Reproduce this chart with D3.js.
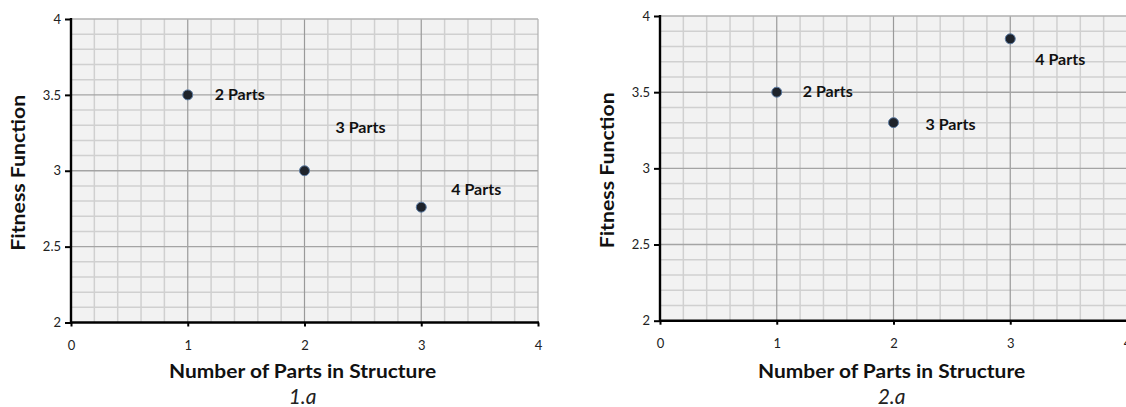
<!DOCTYPE html>
<html>
<head>
<meta charset="utf-8">
<script src="https://cdn.jsdelivr.net/npm/d3@7"></script>
<style>
  html, body { margin: 0; padding: 0; background: #fff; }
  svg { display: block; }
  text { font-family: Lato, "Open Sans", sans-serif; }
</style>
</head>
<body>
<svg id="chart" width="1126" height="407"></svg>
<script>
// ---- data ----
const xTicks = [0, 1, 2, 3, 4];
const yTicks = [2, 2.5, 3, 3.5, 4];
const pointLabels = ["2 Parts", "3 Parts", "4 Parts"];
const parts1 = [1, 2, 3];
const fitness1 = [3.5, 3.0, 2.76];
const parts2 = [1, 2, 3];
const fitness2 = [3.5, 3.3, 3.85];
const xTitle = "Number of Parts in Structure";
const yTitle = "Fitness Function";
const captions = ["1.a", "2.a"];

// ---- layout ----
const panels = [
  { left: 71, right: 538, top: 19, bottom: 322.5, xs: parts1, ys: fitness1, caption: captions[0],
    yTitleX: 19, labelOffsets: [[27, 5], [31, -38], [30, -12]] },
  { left: 660, right: 1127, top: 16, bottom: 320.7, xs: parts2, ys: fitness2, caption: captions[1],
    yTitleX: 608, labelOffsets: [[26, 4.5], [32, 7.5], [25, 26.5]] }
];

const svg = d3.select("#chart");

panels.forEach(p => {
  const x = d3.scaleLinear().domain([0, 4]).range([p.left, p.right]);
  const y = d3.scaleLinear().domain([2, 4]).range([p.bottom, p.top]);
  const g = svg.append("g");

  // background
  g.append("rect").attr("x", p.left).attr("y", p.top)
    .attr("width", p.right - p.left).attr("height", p.bottom - p.top)
    .attr("fill", "#f2f2f2");

  // minor grid
  const xMinor = d3.range(0, 4.0001, 0.2).filter(v => Math.abs(v - Math.round(v)) > 1e-6);
  const yMinor = d3.range(2, 4.0001, 0.1).filter(v => Math.abs(v * 2 - Math.round(v * 2)) > 1e-6);
  g.selectAll(".vminor").data(xMinor).join("line")
    .attr("x1", d => x(d)).attr("x2", d => x(d)).attr("y1", p.top).attr("y2", p.bottom)
    .attr("stroke", "#d0d0d0").attr("stroke-width", 1.5);
  g.selectAll(".hminor").data(yMinor).join("line")
    .attr("y1", d => y(d)).attr("y2", d => y(d)).attr("x1", p.left).attr("x2", p.right)
    .attr("stroke", "#d0d0d0").attr("stroke-width", 1.5);

  // major grid
  g.selectAll(".vmajor").data(xTicks.slice(1)).join("line")
    .attr("x1", d => x(d)).attr("x2", d => x(d)).attr("y1", p.top).attr("y2", p.bottom)
    .attr("stroke", d => d === 4 ? "#b0b0b0" : "#9a9a9a").attr("stroke-width", 1.2);
  g.selectAll(".hmajor").data(yTicks.slice(1)).join("line")
    .attr("y1", d => y(d)).attr("y2", d => y(d)).attr("x1", p.left).attr("x2", p.right)
    .attr("stroke", d => d === 4 ? "#b0b0b0" : "#a4a4a4").attr("stroke-width", 1.4);

  // axes
  const yAxis = d3.axisLeft(y).tickValues(yTicks).tickSize(5).tickPadding(5)
    .tickFormat(d3.format("~g"));
  const gy = g.append("g").attr("transform", `translate(${p.left},0)`).call(yAxis);
  const xAxis = d3.axisBottom(x).tickValues(xTicks).tickSize(4).tickPadding(14)
    .tickFormat(d3.format("d"));
  const gx = g.append("g").attr("transform", `translate(0,${p.bottom})`).call(xAxis);
  [gx, gy].forEach(a => {
    a.select(".domain").attr("stroke", "#000").attr("stroke-width", 2.4);
    a.selectAll(".tick line").attr("stroke", "#000").attr("stroke-width", 2);
    a.selectAll(".tick text").attr("fill", "#222").style("font-size", "13px");
  });
  gy.select(".domain").attr("d", `M0,${p.top - 1}V${p.bottom + 1}`);
  gy.selectAll(".tick line").attr("x2", -6);
  gx.select(".domain").attr("d", `M${p.left - 1},0H${p.right + 1}`);

  // points
  const pts = p.xs.map((v, i) => ({ x: v, y: p.ys[i], label: pointLabels[i], off: p.labelOffsets[i] }));
  g.selectAll(".pt").data(pts).join("circle")
    .attr("cx", d => x(d.x)).attr("cy", d => y(d.y)).attr("r", 5)
    .attr("fill", "#1e232b").attr("stroke", "#5b7ba3").attr("stroke-width", 1);
  g.selectAll(".lbl").data(pts).join("text")
    .attr("x", d => x(d.x) + d.off[0]).attr("y", d => y(d.y) + d.off[1])
    .attr("fill", "#111").style("font-size", "15px").style("font-weight", "bold")
    .attr("textLength", 50).attr("lengthAdjust", "spacingAndGlyphs")
    .text(d => d.label);

  // titles
  g.append("text").attr("x", (x(0) + x(3.95)) / 2 + 1).attr("y", 378)
    .attr("text-anchor", "middle").attr("fill", "#111")
    .style("font-size", "18px").style("font-weight", "bold")
    .attr("textLength", 267).attr("lengthAdjust", "spacingAndGlyphs")
    .text(xTitle);
  g.append("text").attr("x", (x(0) + x(3.95)) / 2 + 1).attr("y", 404)
    .attr("text-anchor", "middle").attr("fill", "#222")
    .style("font-size", "21px").style("font-style", "italic")
    .text(p.caption);
  g.append("text")
    .attr("transform", `translate(${p.yTitleX + 6},${(p.top + p.bottom) / 2 + 2}) rotate(-90)`)
    .attr("text-anchor", "middle").attr("fill", "#111")
    .style("font-size", "18px").style("font-weight", "bold")
    .attr("textLength", 156).attr("lengthAdjust", "spacingAndGlyphs")
    .text(yTitle);
});
</script>
</body>
</html>
